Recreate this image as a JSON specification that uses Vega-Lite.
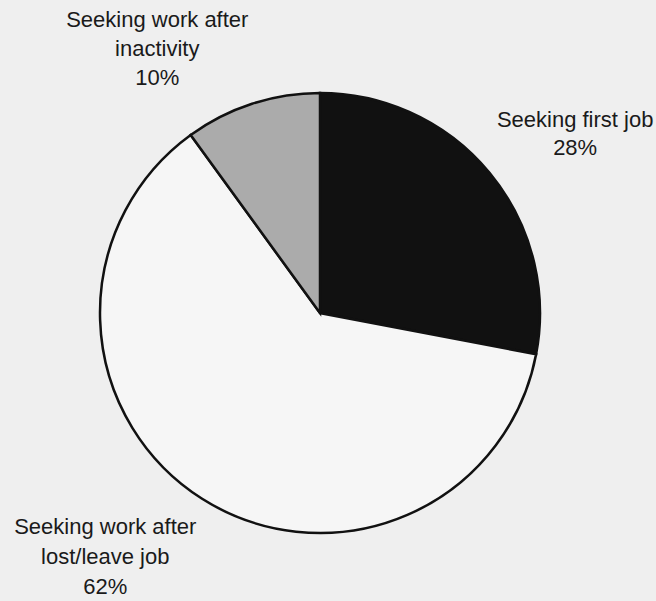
{
  "$schema": "https://vega.github.io/schema/vega-lite/v6.json",
  "autosize": "none",
  "width": 640,
  "height": 576,
  "padding": {"left": 0, "right": 16, "top": 25, "bottom": 0},
  "background": "#efefef",
  "config": {"view": {"stroke": null}},
  "data": {
    "values": [
      {"category": "Seeking first job", "share": 28, "order": 1, "label": ["Seeking first job", "28%"]},
      {"category": "Seeking work after lost/leave job", "share": 62, "order": 2, "label": ["Seeking work after", "lost/leave job", "62%"]},
      {"category": "Seeking work after inactivity", "share": 10, "order": 3, "label": ["Seeking work after", "inactivity", "10%"]}
    ]
  },
  "encoding": {
    "theta": {"field": "share", "type": "quantitative", "stack": true},
    "order": {"field": "order", "type": "quantitative"}
  },
  "layer": [
    {
      "mark": {"type": "arc", "outerRadius": 220, "stroke": "#111111", "strokeWidth": 2.5},
      "encoding": {
        "color": {
          "field": "category",
          "type": "nominal",
          "scale": {
            "domain": ["Seeking first job", "Seeking work after lost/leave job", "Seeking work after inactivity"],
            "range": ["#111111", "#f6f6f6", "#ababab"]
          },
          "legend": null
        }
      }
    },
    {
      "mark": {"type": "text", "radius": 300, "dx": 24, "dy": -2, "font": "Liberation Sans", "fontSize": 22, "color": "#1a1a1a", "lineHeight": 28},
      "encoding": {"text": {"condition": {"test": "datum.order == 1", "field": "label"}, "value": ""}}
    },
    {
      "mark": {"type": "text", "radius": 300, "dx": -54, "dy": -39, "font": "Liberation Sans", "fontSize": 22, "color": "#1a1a1a", "lineHeight": 30},
      "encoding": {"text": {"condition": {"test": "datum.order == 2", "field": "label"}, "value": ""}}
    },
    {
      "mark": {"type": "text", "radius": 300, "dx": -70, "dy": -8, "font": "Liberation Sans", "fontSize": 22, "color": "#1a1a1a", "lineHeight": 29},
      "encoding": {"text": {"condition": {"test": "datum.order == 3", "field": "label"}, "value": ""}}
    }
  ]
}
